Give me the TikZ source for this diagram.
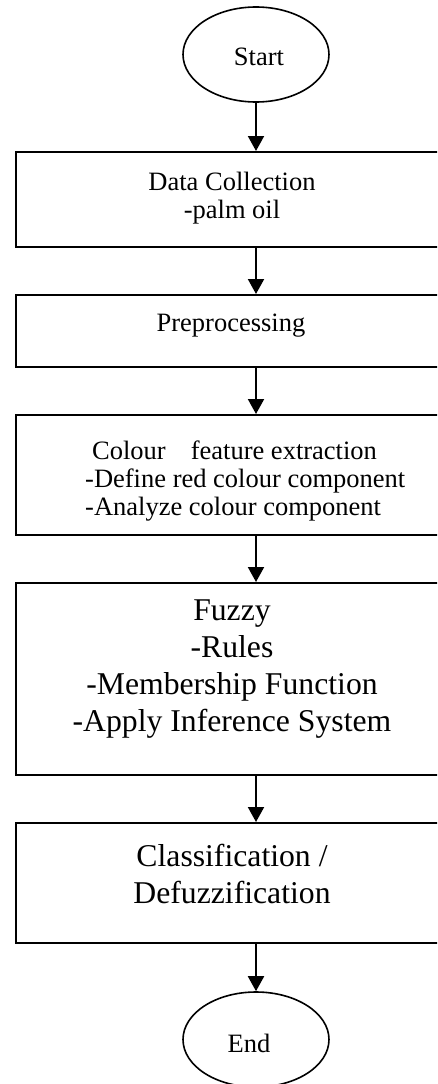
\documentclass[tikz,border=0pt]{standalone}
\usepackage{fontspec}
\setmainfont{Liberation Serif}
\usetikzlibrary{arrows.meta,shapes.geometric}
\begin{document}
\begin{tikzpicture}[x=1pt,y=-1pt,
  oval/.style={draw,ellipse,line width=1.6pt,minimum width=146pt,minimum height=95pt,inner sep=0},
  procbox/.style={draw,rectangle,line width=2pt,minimum width=480pt,inner sep=0},
  small/.style={inner sep=0,font=\fontsize{26.5}{28}\selectfont},
  big/.style={inner sep=0,font=\fontsize{31.7}{37}\selectfont},
  flow/.style={line width=2pt,-{Triangle[length=15pt,width=16pt]}}]
\clip (0,0) rectangle (437,1084);
\fill[white] (0,0) rectangle (437,1084);
% shapes
\node[oval] (start) at (256,54.5) {};
\node[procbox,minimum height=95pt] (b1) at (256,199.5) {};
\node[procbox,minimum height=72pt] (b2) at (256,331) {};
\node[procbox,minimum height=120pt] (b3) at (256,475) {};
\node[procbox,minimum height=192pt] (b4) at (256,679) {};
\node[procbox,minimum height=120pt] (b5) at (256,883) {};
\node[oval] (end) at (256,1039.5) {};
% texts
\node[small] (tstart) at (259,57) {Start};
\node[small,align=center] (t1) at (232,198) {Data Collection\\-palm oil};
\node[small] (t2) at (231,326) {Preprocessing};
\node[small,align=left,anchor=west] (t3) at (85,481) {\hspace{7pt}Colour\hspace{25pt}feature extraction\\-Define red colour component\\-Analyze colour component};
\node[big,align=center] (t4) at (232,669) {Fuzzy\\-Rules\\-Membership Function\\-Apply Inference System};
\node[big,align=center] (t5) at (232,874) {Classification /\\Defuzzification};
\node[small] (tend) at (249,1043) {End};
% connectors
\draw[flow] (start) -- (b1);
\draw[flow] (b1) -- (b2);
\draw[flow] (b2) -- (b3);
\draw[flow] (b3) -- (b4);
\draw[flow] (b4) -- (b5);
\draw[flow] (b5) -- (end);
\end{tikzpicture}
\end{document}
